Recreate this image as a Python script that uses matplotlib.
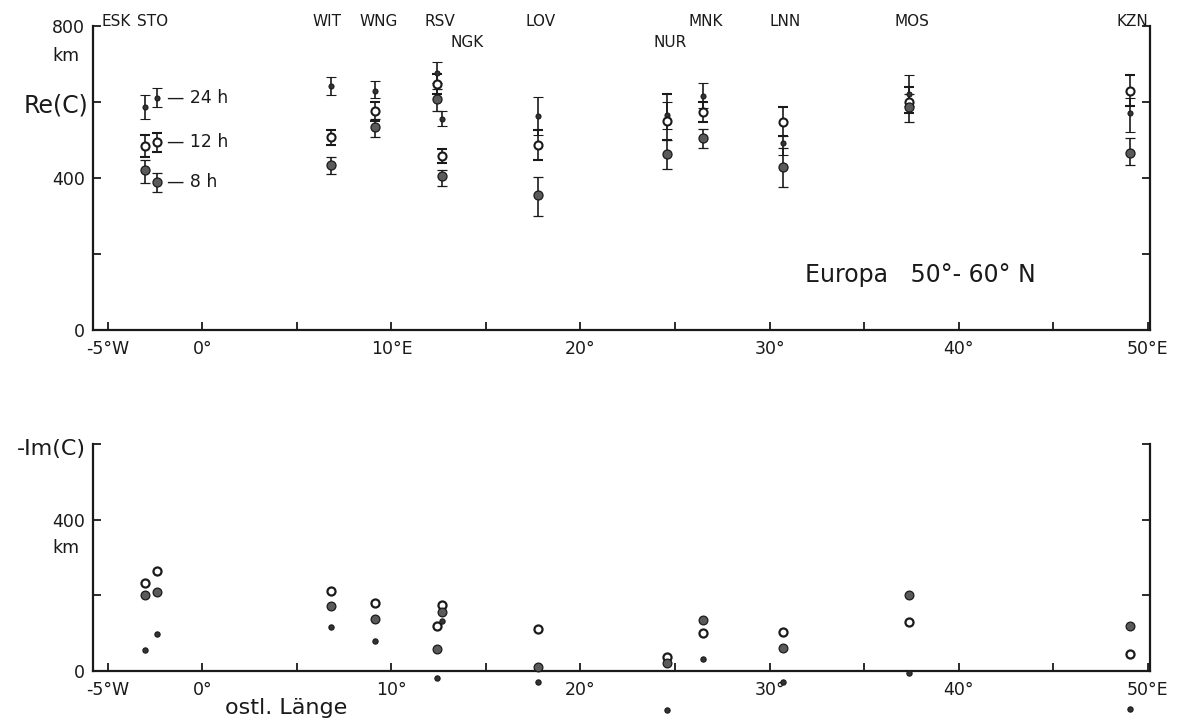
# -*- coding: utf-8 -*-
"""
Re(C) und -Im(C) fuer europaeische Observatorien, 50-60 N
"""

import matplotlib
matplotlib.use('Agg')
import matplotlib.pyplot as plt
import numpy as np

# stations and geographic longitude (deg E)
stations = ['ESK', 'STO', 'WIT', 'WNG', 'RSV', 'NGK', 'LOV', 'NUR', 'MNK', 'LNN', 'MOS', 'KZN']
lon = [-3.05, -2.4, 6.8, 9.15, 12.4, 12.7, 17.75, 24.6, 26.5, 30.7, 37.4, 49.05]

# Re(C) in km, with lower / upper error limits
re_24h = [587, 610, 642, 629, 677, 555, 563, 566, 616, 492, 621, 571]
re_24h_lo = [555, 587, 618, 610, 650, 537, 513, 530, 585, 460, 590, 521]
re_24h_hi = [618, 637, 666, 655, 705, 576, 613, 600, 650, 511, 671, 610]

re_12h = [484, 495, 508, 576, 647, 458, 487, 550, 574, 547, 600, 629]
re_12h_lo = [455, 469, 487, 550, 620, 439, 447, 500, 547, 511, 570, 590]
re_12h_hi = [513, 518, 526, 600, 675, 476, 527, 621, 600, 587, 640, 671]

re_8h = [421, 390, 434, 534, 607, 405, 355, 463, 505, 429, 587, 466]
re_8h_lo = [387, 364, 411, 508, 576, 379, 300, 424, 479, 376, 547, 434]
re_8h_hi = [447, 413, 455, 555, 635, 421, 403, 500, 529, 480, 620, 505]

# -Im(C) in km
im_24h = [56, 98, 117, 79, -19, 132, -29, -103, 32, -29, -5, -101]
im_12h = [233, 265, 212, 180, 119, 175, 111, 37, 100, 103, 130, 45]
im_8h = [201, 209, 172, 138, 58, 156, 11, 21, 135, 61, 201, 119]

x_ticks = [-5, 0, 5, 10, 15, 20, 25, 30, 35, 40, 45, 50]
x_labels_top = ['-5°W', '0°', '', '10°E', '', '20°', '', '30°', '', '40°', '', '50°E']
x_labels_bottom = ['-5°W', '0°', '', '10°', '', '20°', '', '30°', '', '40°', '', '50°E']

period_labels = ['24 h', '12 h', '8 h']

FIG_W, FIG_H = 1186, 727
INK = '#1a1a1a'


def style_axis(ax, y_max, y_ticks, y_labels, x_labels):
    """
    spines, ticks and limits as in the printed figure
    """
    ax.set_xlim(-5.79, 50.13)
    ax.set_ylim(0, y_max)
    ax.spines['top'].set_visible(False)
    for s in ['left', 'right', 'bottom']:
        ax.spines[s].set_linewidth(1.6)
        ax.spines[s].set_color(INK)
    ax.set_xticks(x_ticks)
    ax.set_xticklabels(x_labels, fontsize=12.5)
    ax.set_yticks(y_ticks)
    ax.set_yticklabels(y_labels, fontsize=12.5)
    ax.tick_params(axis='both', direction='in', length=6, width=1.3, color=INK, labelcolor=INK)
    ax.tick_params(axis='x', pad=7)
    ax.tick_params(axis='y', pad=6, right=True)
    ax.set_facecolor('none')


def draw_re(ax):
    """
    upper panel: Re(C) with error bars
    """
    x = np.array(lon)
    sets = [
        (re_24h, re_24h_lo, re_24h_hi, dict(marker='o', ms=3.6, mfc='#333333', mec=INK, mew=0.8)),
        (re_12h, re_12h_lo, re_12h_hi, dict(marker='o', ms=5.8, mfc='white', mec=INK, mew=1.5)),
        (re_8h, re_8h_lo, re_8h_hi, dict(marker='o', ms=6.5, mfc='#5a5a5a', mec=INK, mew=0.9)),
    ]
    for val, lo, hi, mk in sets:
        val = np.array(val)
        err = [val - np.array(lo), np.array(hi) - val]
        ax.errorbar(x, val, yerr=err, ls='none', ecolor=INK, elinewidth=1.2,
                    capsize=3.5, capthick=2.0, zorder=3, **mk)

    # period legend beside STO
    i_sto = stations.index('STO')
    for val, lbl in zip([re_24h, re_12h, re_8h], period_labels):
        ax.text(lon[i_sto] + 0.55, val[i_sto], '— ' + lbl, fontsize=12.5, color=INK,
                ha='left', va='center')

    # station names above the panel
    shift = {'ESK': -1.5, 'STO': -0.25, 'NGK': 1.3, 'WIT': -0.2}
    second_row = ['NGK', 'NUR']
    for name, xs in zip(stations, lon):
        yy = 0.947 if name in second_row else 1.016
        ax.text(xs + shift.get(name, 0.15), yy, name, transform=ax.get_xaxis_transform(),
                fontsize=11, color=INK, ha='center', va='center', clip_on=False)

    ax.text(31.9, 145, 'Europa   50°- 60° N', fontsize=17, color=INK, ha='left', va='center')
    ax.text(-7.75, 590, 'Re(C)', fontsize=17, color=INK, ha='center', va='center')
    ax.text(-6.5, 720, 'km', fontsize=12.5, color=INK, ha='right', va='center')


def draw_im(ax):
    """
    lower panel: -Im(C), points only
    """
    x = np.array(lon)
    ax.plot(x, im_12h, ls='none', marker='o', ms=5.8, mfc='white', mec=INK, mew=1.6,
            clip_on=False, zorder=3)
    ax.plot(x, im_8h, ls='none', marker='o', ms=6.3, mfc='#5a5a5a', mec=INK, mew=0.9,
            clip_on=False, zorder=3)
    ax.plot(x, im_24h, ls='none', marker='o', ms=3.8, mfc='#333333', mec=INK, mew=0.8,
            clip_on=False, zorder=3)

    ax.text(-8.0, 588, '-Im(C)', fontsize=16, color=INK, ha='center', va='center')
    ax.text(-6.5, 325, 'km', fontsize=12.5, color=INK, ha='right', va='center')
    ax.text(1.2, -98, 'ostl. Länge', fontsize=16, color=INK, ha='left', va='center')


if __name__ == '__main__':
    plt.rcParams['font.family'] = ['DejaVu Sans']
    fig = plt.figure(figsize=(FIG_W / 100, FIG_H / 100), dpi=100)
    fig.patch.set_facecolor('white')

    ax1 = fig.add_axes([93 / FIG_W, 397 / FIG_H, (1150 - 93) / FIG_W, (330 - 26) / FIG_H])
    style_axis(ax1, 800, [0, 200, 400, 600, 800], ['0', '', '400', '', '800'], x_labels_top)
    draw_re(ax1)

    ax2 = fig.add_axes([93 / FIG_W, 56 / FIG_H, (1150 - 93) / FIG_W, (671 - 444) / FIG_H])
    style_axis(ax2, 600, [0, 200, 400, 600], ['0', '', '400', ''], x_labels_bottom)
    draw_im(ax2)

    fig.savefig('out.png', dpi=100, facecolor='white')
